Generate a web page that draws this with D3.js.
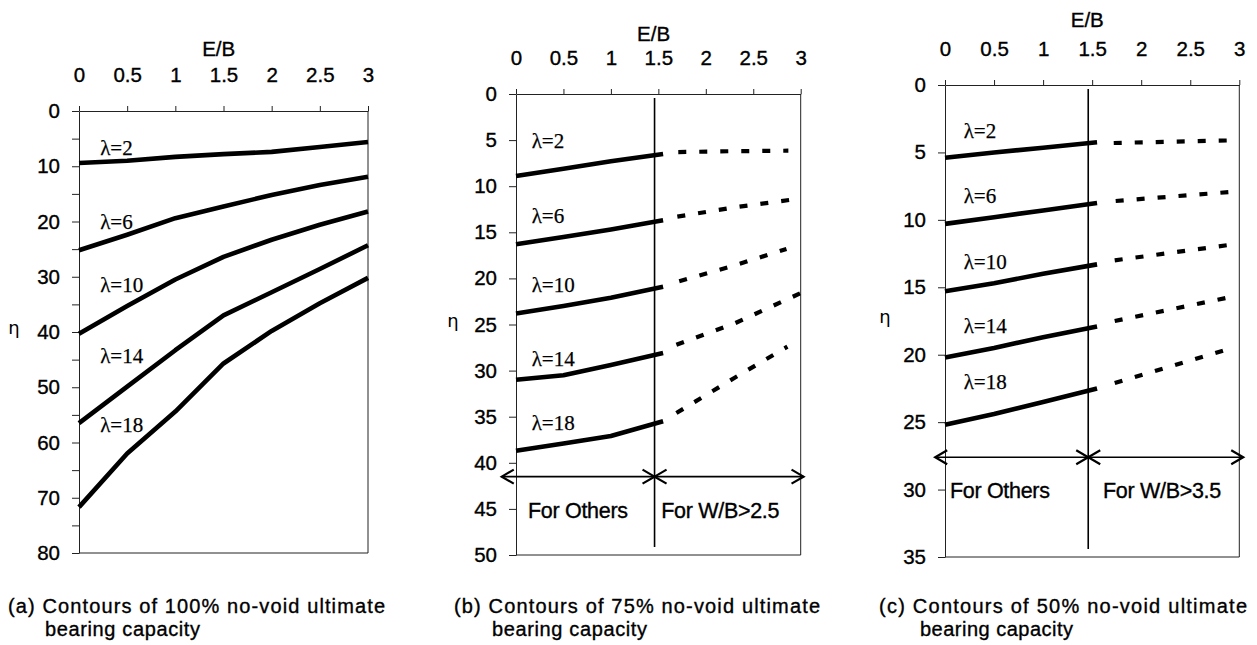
<!DOCTYPE html>
<html><head><meta charset="utf-8">
<script src="https://cdn.jsdelivr.net/npm/d3@7"></script>
<style>body{margin:0;background:#fff}</style>
</head><body>
<svg id="c" width="1257" height="645"></svg>
<script>
// ---------- data ----------
const ebTicks = [0, 0.5, 1, 1.5, 2, 2.5, 3];
const lambdaLabels = ["λ=2", "λ=6", "λ=10", "λ=14", "λ=18"];

// (a) 100%
const aYTicks = [0, 5, 10, 15, 20, 25, 30, 35, 40, 45, 50, 55, 60, 65, 70, 75, 80];
const aEb = [0, 0.5, 1, 1.5, 2, 2.5, 3];
const aL2 = [9.4, 9.0, 8.3, 7.8, 7.4, 6.5, 5.6];
const aL6 = [25.2, 22.4, 19.4, 17.3, 15.2, 13.4, 11.9];
const aL10 = [40.3, 35.3, 30.5, 26.4, 23.3, 20.6, 18.2];
const aL14 = [56.5, 49.9, 43.3, 37.0, 32.8, 28.6, 24.3];
const aL18 = [71.7, 62.0, 54.4, 45.7, 39.8, 34.8, 30.2];

// (b) 75%
const bYTicks = [0, 5, 10, 15, 20, 25, 30, 35, 40, 45, 50];
const bEb = [0, 0.5, 1, 1.55];
const bL2 = [8.9, 8.1, 7.3, 6.5];
const bL6 = [16.3, 15.5, 14.7, 13.7];
const bL10 = [23.8, 23.0, 22.1, 20.9];
const bL14 = [31.0, 30.5, 29.4, 28.1];
const bL18 = [38.7, 37.9, 37.1, 35.5];
const bDashL2 = [[1.71, 6.3], [2.3, 6.2], [2.87, 6.15]];
const bDashL6 = [[1.70, 13.3], [2.3, 12.3], [2.95, 11.4]];
const bDashL10 = [[1.72, 20.3], [2.3, 18.6], [2.85, 16.8]];
const bDashL14 = [[1.69, 27.2], [2.3, 24.9], [3.0, 21.6]];
const bDashL18 = [[1.69, 34.6], [2.3, 30.8], [2.86, 27.4]];

// (c) 50%
const cYTicks = [0, 5, 10, 15, 20, 25, 30, 35];
const cEb = [0, 0.5, 1, 1.55];
const cL2 = [5.4, 5.0, 4.65, 4.25];
const cL6 = [10.3, 9.8, 9.3, 8.75];
const cL10 = [15.3, 14.7, 14.0, 13.3];
const cL14 = [20.2, 19.5, 18.7, 17.9];
const cL18 = [25.2, 24.4, 23.5, 22.5];
const cDashL2 = [[1.72, 4.3], [2.96, 4.1]];
const cDashL6 = [[1.74, 8.6], [2.96, 7.9]];
const cDashL10 = [[1.73, 13.0], [2.96, 11.8]];
const cDashL14 = [[1.73, 17.5], [2.93, 15.7]];
const cDashL18 = [[1.73, 22.1], [2.88, 19.6]];

const dividerEb = 1.46;
const captions = [
  ["(a) Contours of 100% no-void ultimate", "bearing capacity"],
  ["(b) Contours of 75% no-void ultimate", "bearing capacity"],
  ["(c) Contours of 50% no-void ultimate", "bearing capacity"]
];
const regionLabels = [null, ["For Others", "For W/B>2.5"], ["For Others", "For W/B>3.5"]];

// ---------- drawing ----------
const svg = d3.select("#c");
const SANS = "'Liberation Sans', Arial, sans-serif";
const SERIF = "'Liberation Serif', 'Times New Roman', serif";

const panels = [
  { x0: 79, x1: 368, y0: 111, y1: 553, max: 80, yTicks: aYTicks, labelEvery: 10,
    solid: [aL2, aL6, aL10, aL14, aL18].map(v => aEb.map((e, i) => [e, v[i]])), dashed: null,
    labX: 0.22, labEta: [6.75, 20.0, 31.5, 44.3, 56.8],
    titleDy: 63, etaPos: [14, 327],
    cap: { x: 8, w: 377, x2: 45, w2: 155 } },
  { x0: 516, x1: 800.7, y0: 94, y1: 555, max: 50, yTicks: bYTicks, labelEvery: 5,
    solid: [bL2, bL6, bL10, bL14, bL18].map(v => bEb.map((e, i) => [e, v[i]])),
    dashed: [bDashL2, bDashL6, bDashL10, bDashL14, bDashL18],
    labX: 0.165, labEta: [5.1, 13.2, 20.7, 28.7, 35.7],
    titleDy: 61, etaPos: [453, 320], arrowEta: 41.5, arrowL: -0.15, arrowR: 3.03,
    regX: [0.126, 1.53], regEta: 45.2,
    cap: { x: 454, w: 366, x2: 492, w2: 155 } },
  { x0: 945, x1: 1239.3, y0: 85, y1: 557, max: 35, yTicks: cYTicks, labelEvery: 5,
    solid: [cL2, cL6, cL10, cL14, cL18].map(v => cEb.map((e, i) => [e, v[i]])),
    dashed: [cDashL2, cDashL6, cDashL10, cDashL14, cDashL18],
    labX: 0.19, labEta: [3.4, 8.2, 13.1, 17.9, 22.0],
    titleDy: 66, etaPos: [885, 316], arrowEta: 27.6, arrowL: -0.10, arrowR: 3.04,
    regX: [0.05, 1.61], regEta: 30.1,
    cap: { x: 879, w: 368, x2: 920, w2: 153 } }
];

const heavy = sel => sel.attr("stroke", "#000").attr("stroke-width", 0.35);

panels.forEach((p, pi) => {
  const x = d3.scaleLinear().domain([0, 3]).range([p.x0, p.x1]);
  const y = d3.scaleLinear().domain([0, p.max]).range([p.y0, p.y1]);
  const g = svg.append("g");

  // frame (right & bottom border)
  g.append("path")
    .attr("d", `M${x(3)},${y(0)}V${y(p.max)}H${x(0)}`)
    .attr("fill", "none").attr("stroke", "#222").attr("stroke-width", 1);

  // top axis
  const xa = g.append("g").attr("transform", `translate(0,${y(0)})`)
    .call(d3.axisTop(x).tickValues(ebTicks).tickSize(5).tickSizeOuter(0).tickPadding(24)
      .tickFormat(d => String(d)));
  // left axis
  const ya = g.append("g").attr("transform", `translate(${x(0)},0)`)
    .call(d3.axisLeft(y).tickValues(p.yTicks).tickSize(7).tickSizeOuter(0).tickPadding(12)
      .tickFormat(d => (d % p.labelEvery === 0 ? String(d) : "")));
  [xa, ya].forEach(a => {
    a.select(".domain").attr("stroke", "#222").attr("stroke-width", 1);
    a.selectAll(".tick line").attr("stroke", "#222").attr("stroke-width", 1);
    heavy(a.selectAll("text").attr("font-family", SANS).attr("font-size", 20.5).attr("fill", "#000"));
  });

  // axis titles
  heavy(g.append("text").attr("x", x(1.45)).attr("y", y(0) - p.titleDy)
    .attr("text-anchor", "middle").attr("dominant-baseline", "central")
    .attr("font-family", SANS).attr("font-size", 20.5).text("E/B"));
  g.append("text").attr("x", p.etaPos[0]).attr("y", p.etaPos[1])
    .attr("text-anchor", "middle").attr("dominant-baseline", "central")
    .attr("font-family", "'DejaVu Sans', sans-serif").attr("font-size", 18).text("η");

  // divider and region arrows
  if (p.dashed) {
    const xd = x(dividerEb);
    g.append("line").attr("x1", xd).attr("x2", xd).attr("y1", y(0) + 4).attr("y2", y(p.max) - 8)
      .attr("stroke", "#000").attr("stroke-width", 1.6);
    const ay = y(p.arrowEta);
    const xl = x(p.arrowL), xr = x(p.arrowR);
    g.append("line").attr("x1", xl).attr("x2", xr).attr("y1", ay).attr("y2", ay)
      .attr("stroke", "#000").attr("stroke-width", 1.6);
    const ah = 12, aw = 7;
    const heads = [
      `M${xl + ah},${ay - aw}L${xl},${ay}L${xl + ah},${ay + aw}`,
      `M${xd - ah},${ay - aw}L${xd},${ay}L${xd - ah},${ay + aw}`,
      `M${xd + ah},${ay - aw}L${xd},${ay}L${xd + ah},${ay + aw}`,
      `M${xr - ah},${ay - aw}L${xr},${ay}L${xr - ah},${ay + aw}`
    ];
    heads.forEach(d => g.append("path").attr("d", d).attr("fill", "none")
      .attr("stroke", "#000").attr("stroke-width", 2.2));
    regionLabels[pi].forEach((t, i) => {
      heavy(g.append("text").attr("x", x(p.regX[i])).attr("y", y(p.regEta))
        .attr("dominant-baseline", "central").attr("font-family", SANS)
        .attr("font-size", 21.5).attr("letter-spacing", -0.3).text(t));
    });
  }

  // contour lines
  const line = d3.line().x(d => x(d[0])).y(d => y(d[1]));
  p.solid.forEach(s => {
    g.append("path").attr("d", line(s)).attr("fill", "none")
      .attr("stroke", "#000").attr("stroke-width", 4.6).attr("stroke-linejoin", "round");
  });
  if (p.dashed) {
    p.dashed.forEach(s => {
      g.append("path").attr("d", line(s)).attr("fill", "none")
        .attr("stroke", "#000").attr("stroke-width", 4.2)
        .attr("stroke-dasharray", "8 13");
    });
  }

  // lambda labels
  lambdaLabels.forEach((t, i) => {
    heavy(g.append("text").attr("x", x(p.labX)).attr("y", y(p.labEta[i]))
      .attr("dominant-baseline", "central").attr("font-family", SERIF)
      .attr("font-size", 21).text(t)).attr("stroke-width", 0.25);
  });

  // caption
  const c = captions[pi];
  heavy(g.append("text").attr("x", p.cap.x).attr("y", 613).attr("font-family", SANS)
    .attr("font-size", 20).attr("textLength", p.cap.w).attr("lengthAdjust", "spacing").text(c[0]));
  heavy(g.append("text").attr("x", p.cap.x2).attr("y", 636).attr("font-family", SANS)
    .attr("font-size", 20).attr("textLength", p.cap.w2).attr("lengthAdjust", "spacing").text(c[1]));
});
</script>
</body></html>
